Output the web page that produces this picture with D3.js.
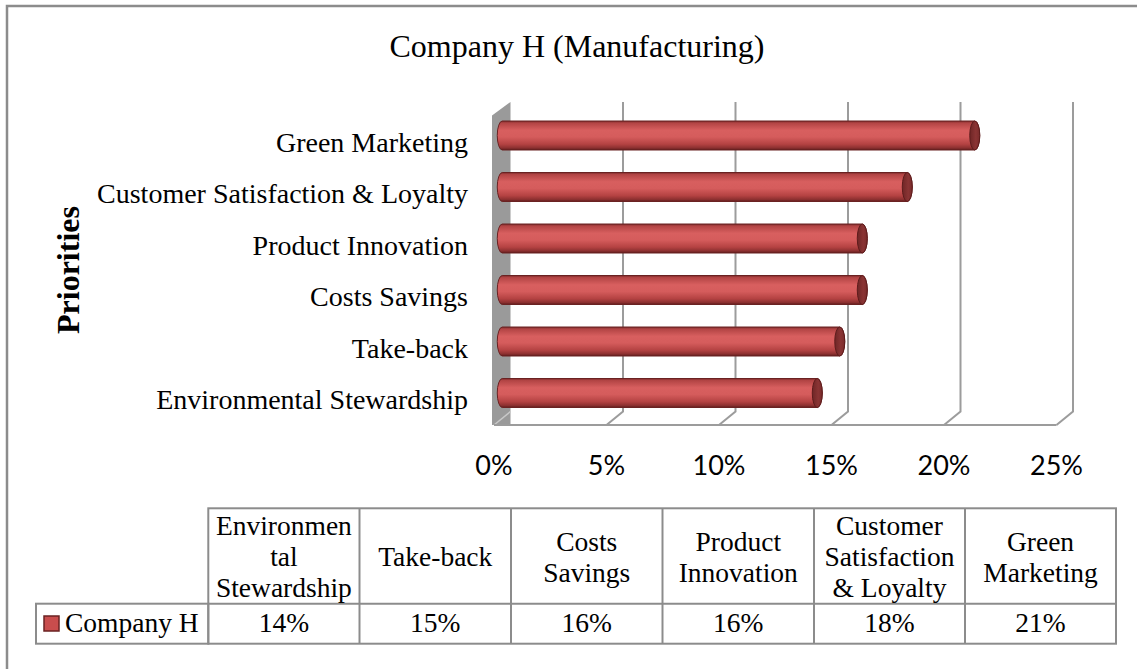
<!DOCTYPE html>
<html><head><meta charset="utf-8">
<script src="https://cdn.jsdelivr.net/npm/d3@7"></script>
<style>body{margin:0;background:#fff}svg{display:block}</style>
</head><body><svg id="chart" width="1137" height="669"></svg>
<script>
// Survey results: share of respondents naming each green priority
const categories = ["Environmental Stewardship", "Take-back", "Costs Savings", "Product Innovation", "Customer Satisfaction & Loyalty", "Green Marketing"];
const values = [14, 15, 16, 16, 18, 21];
const seriesName = "Company H";
const headerLines = [["Environmen", "tal", "Stewardship"], ["Take-back"], ["Costs", "Savings"], ["Product", "Innovation"], ["Customer", "Satisfaction", "& Loyalty"], ["Green", "Marketing"]];
const tickValues = [0, 5, 10, 15, 20, 25];
const chartTitle = "Company H (Manufacturing)";
const axisTitle = "Priorities";

const svg = d3.select("#chart");
const serif = "'Liberation Serif','Times New Roman',serif";
const sans = "Lato,'Open Sans',sans-serif";
const gridColor = "#9c9c9c";

// 3-D frame geometry: front plane and depth offset of the back plane
const depthX = 16.5, depthY = -13.5;
const floorY = 425, topBackY = 102;
const x = d3.scaleLinear().domain([0, 25]).range([494, 1056.5]);
const y = d3.scalePoint().domain(categories.slice().reverse()).range([109.75, 418.75]).padding(0.5);

// Outer chart border (open on the right and bottom edges)
svg.append("path")
  .attr("d", "M7,669 L7,6 L1137,6")
  .attr("fill", "none").attr("stroke", "#8c8c8c").attr("stroke-width", 2.5);

// Title
svg.append("text").attr("x", 577).attr("y", 57).attr("text-anchor", "middle")
  .attr("font-family", serif).attr("font-size", 32).attr("fill", "#000").text(chartTitle);

// Axis title
svg.append("text").attr("transform", "translate(79,270) rotate(-90)").attr("text-anchor", "middle")
  .attr("font-family", serif).attr("font-size", 32).attr("font-weight", "bold").attr("fill", "#000").text(axisTitle);

const defs = svg.append("defs");
const grad = defs.append("linearGradient").attr("id", "cyl").attr("x1", 0).attr("y1", 0).attr("x2", 0).attr("y2", 1);
[[0, "#7a2a2a"], [0.07, "#b24444"], [0.32, "#d85f5f"], [0.55, "#d55c5c"], [0.8, "#b44242"], [0.93, "#8c3030"], [1, "#5e1c1c"]]
  .forEach(([o, c]) => grad.append("stop").attr("offset", o).attr("stop-color", c));
const capGrad = defs.append("linearGradient").attr("id", "cap").attr("x1", 0).attr("y1", 0).attr("x2", 1).attr("y2", 0);
[[0, "#6e2626"], [0.6, "#8a3434"], [1, "#7a2c2c"]]
  .forEach(([o, c]) => capGrad.append("stop").attr("offset", o).attr("stop-color", c));

// Left wall
const wx0 = x(0) - 2, wx1 = x(0) + depthX;
svg.append("path")
  .attr("d", `M${wx0},${topBackY - depthY} L${wx1},${topBackY} L${wx1},${floorY} L${wx0},${floorY} Z`)
  .attr("fill", "#9a9a9a");
svg.append("line")
  .attr("x1", wx1).attr("y1", floorY + depthY).attr("x2", x(0)).attr("y2", floorY)
  .attr("stroke", "#c8c8c8").attr("stroke-width", 1.5);

// Back gridlines and floor edges
const grid = svg.append("g").attr("stroke", gridColor).attr("stroke-width", 2).attr("fill", "none");
tickValues.filter(t => t > 0).forEach(t => {
  const bx = x(t) + depthX;
  grid.append("path").attr("d", `M${bx},${topBackY} L${bx},${floorY + depthY} L${x(t)},${floorY}`);
});
grid.append("line").attr("x1", x(0)).attr("x2", x(25)).attr("y1", floorY).attr("y2", floorY);

// Category labels
svg.append("g").selectAll("text").data(categories).join("text")
  .attr("x", 468).attr("y", d => y(d) - depthY / 2 + 9.5)
  .attr("text-anchor", "end").attr("font-family", serif).attr("font-size", 28).attr("fill", "#000")
  .text(d => d);

// Value axis tick labels
svg.append("g").selectAll("text").data(tickValues).join("text")
  .attr("x", d => x(d)).attr("y", 475).attr("text-anchor", "middle")
  .attr("font-family", sans).attr("font-size", 27).attr("fill", "#000")
  .text(d => d + "%");

// Cylindrical bars placed at mid depth
const r = 14.5, rx = 5;
const bars = svg.append("g").selectAll("g").data(categories.map((c, i) => ({ c, v: values[i] }))).join("g");
bars.append("path")
  .attr("d", d => {
    const x0 = x(0) + depthX / 2, x1 = x(d.v) + depthX / 2, cy = y(d.c);
    return `M${x0},${cy - r} L${x1},${cy - r} A${rx},${r} 0 0 1 ${x1},${cy + r} L${x0},${cy + r} A${rx},${r} 0 0 1 ${x0},${cy - r} Z`;
  })
  .attr("fill", "url(#cyl)").attr("stroke", "#6a2222").attr("stroke-width", 1);
bars.append("ellipse")
  .attr("cx", d => x(d.v) + depthX / 2).attr("cy", d => y(d.c))
  .attr("rx", rx).attr("ry", r)
  .attr("fill", "url(#cap)").attr("stroke", "#5e1c1c").attr("stroke-width", 1);

// Data table below the chart
const colEdges = [208.3, 359.5, 511, 662.5, 814, 965, 1116];
const tHeadTop = 508.3, tRowTop = 603.7, tRowBottom = 643.7, legendLeft = 36;
const table = svg.append("g");
const borderStyle = s => s.attr("stroke", "#8c8c8c").attr("stroke-width", 2).attr("fill", "none");
table.append("rect").attr("x", colEdges[0]).attr("y", tHeadTop)
  .attr("width", colEdges[6] - colEdges[0]).attr("height", tRowBottom - tHeadTop).call(borderStyle);
table.append("rect").attr("x", legendLeft).attr("y", tRowTop)
  .attr("width", colEdges[0] - legendLeft).attr("height", tRowBottom - tRowTop).call(borderStyle);
table.append("line").attr("x1", colEdges[0]).attr("x2", colEdges[6]).attr("y1", tRowTop).attr("y2", tRowTop).call(borderStyle);
colEdges.slice(1, 6).forEach(cx => table.append("line").attr("x1", cx).attr("x2", cx).attr("y1", tHeadTop).attr("y2", tRowBottom).call(borderStyle));

const lineH = 31, headMid = (tHeadTop + tRowTop) / 2 + 1;
headerLines.forEach((lines, i) => {
  const cx = (colEdges[i] + colEdges[i + 1]) / 2;
  const t = table.append("text").attr("text-anchor", "middle").attr("font-family", serif).attr("font-size", 27.5).attr("fill", "#000");
  lines.forEach((ln, j) => {
    t.append("tspan").attr("x", cx).attr("y", headMid + (j - (lines.length - 1) / 2) * lineH + 9).text(ln);
  });
});
values.forEach((v, i) => {
  table.append("text").attr("x", (colEdges[i] + colEdges[i + 1]) / 2).attr("y", 632)
    .attr("text-anchor", "middle").attr("font-family", serif).attr("font-size", 27.5).attr("fill", "#000")
    .text(v + "%");
});
// Legend key
table.append("rect").attr("x", 44).attr("y", 616).attr("width", 15).attr("height", 15)
  .attr("fill", "#c94d4d").attr("stroke", "#6a2222").attr("stroke-width", 1.5);
table.append("text").attr("x", 65).attr("y", 632).attr("font-family", serif).attr("font-size", 27.5).attr("fill", "#000").text(seriesName);
</script></body></html>
